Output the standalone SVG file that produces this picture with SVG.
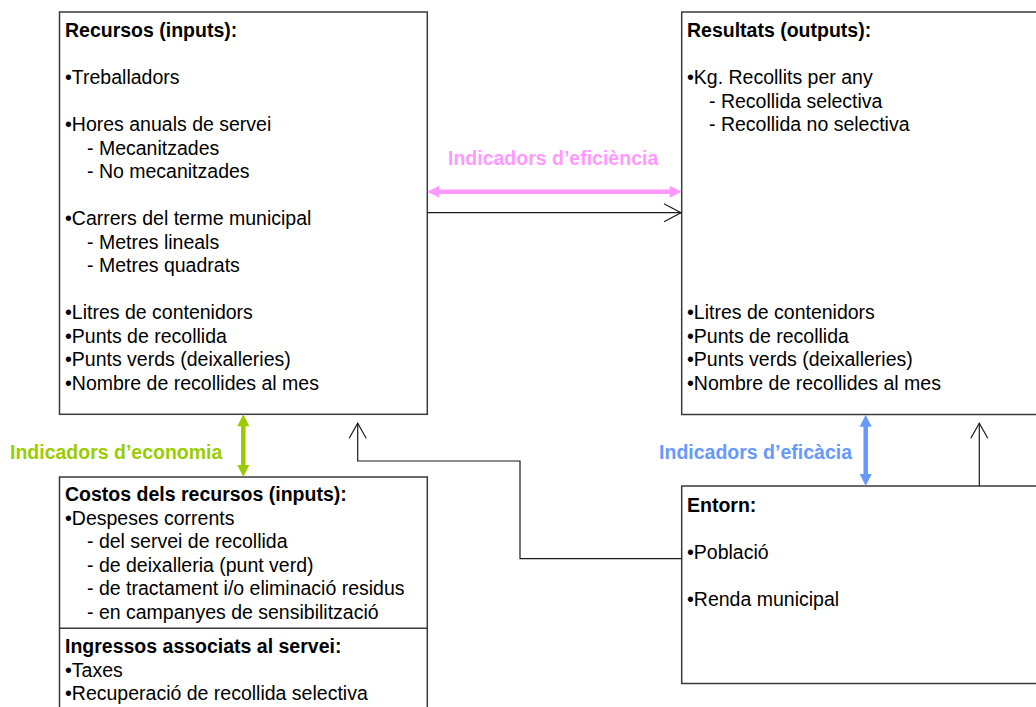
<svg xmlns="http://www.w3.org/2000/svg" width="1036" height="707" viewBox="0 0 1036 707">
  <style>
    .box { fill: #ffffff; stroke: #3a3a3a; stroke-width: 1.5; }
    .t { font-family: "Liberation Sans", Arial, sans-serif; font-size: 19.5px; fill: #000000; }
    .b { font-weight: bold; }
    .lbl { font-family: "Liberation Sans", Arial, sans-serif; font-size: 19.5px; font-weight: bold; }
    .conn { fill: none; stroke: #1a1a1a; stroke-width: 1.2; }
  </style>
  <defs>
    <marker id="pinkHead" viewBox="0 0 12 12" markerWidth="12" markerHeight="12" refX="6" refY="6" markerUnits="userSpaceOnUse" orient="auto-start-reverse" overflow="visible">
      <path d="M0,0 L12,6 L0,12 Z" fill="#FF99FF"/>
    </marker>
    <marker id="greenHead" viewBox="0 0 12 12" markerWidth="12" markerHeight="12" refX="6" refY="6" markerUnits="userSpaceOnUse" orient="auto-start-reverse" overflow="visible">
      <path d="M0,0 L12,6 L0,12 Z" fill="#99CC00"/>
    </marker>
    <marker id="blueHead" viewBox="0 0 12 12" markerWidth="12" markerHeight="12" refX="6" refY="6" markerUnits="userSpaceOnUse" orient="auto-start-reverse" overflow="visible">
      <path d="M0,0 L12,6 L0,12 Z" fill="#6699FF"/>
    </marker>
    <marker id="openH" viewBox="0 0 17 18" markerWidth="17" markerHeight="18" refX="17" refY="9" markerUnits="userSpaceOnUse" orient="auto" overflow="visible">
      <path d="M0,0 L17,9 L0,18" fill="none" stroke="#1a1a1a" stroke-width="1.2"/>
    </marker>
    <marker id="openV" viewBox="0 0 15 17" markerWidth="15" markerHeight="17" refX="15" refY="8.5" markerUnits="userSpaceOnUse" orient="auto" overflow="visible">
      <path d="M0,0 L15,8.5 L0,17" fill="none" stroke="#1a1a1a" stroke-width="1.2"/>
    </marker>
  </defs>

  <g id="recursos">
    <rect class="box" x="59.5" y="12" width="367.8" height="402.3"/>
    <text class="t b" x="65" y="37">Recursos (inputs):</text>
    <text class="t" x="65" y="84">•Treballadors</text>
    <text class="t" x="65" y="131">•Hores anuals de servei</text>
    <text class="t" x="87" y="154.5">- Mecanitzades</text>
    <text class="t" x="87" y="178">- No mecanitzades</text>
    <text class="t" x="65" y="225">•Carrers del terme municipal</text>
    <text class="t" x="87" y="248.5">- Metres lineals</text>
    <text class="t" x="87" y="272">- Metres quadrats</text>
    <text class="t" x="65" y="319">•Litres de contenidors</text>
    <text class="t" x="65" y="342.5">•Punts de recollida</text>
    <text class="t" x="65" y="366">•Punts verds (deixalleries)</text>
    <text class="t" x="65" y="389.5">•Nombre de recollides al mes</text>
  </g>

  <g id="resultats">
    <rect class="box" x="681.7" y="12" width="400" height="402.5"/>
    <text class="t b" x="687" y="37">Resultats (outputs):</text>
    <text class="t" x="687" y="84">•Kg. Recollits per any</text>
    <text class="t" x="709" y="107.5">- Recollida selectiva</text>
    <text class="t" x="709" y="131">- Recollida no selectiva</text>
    <text class="t" x="687" y="319">•Litres de contenidors</text>
    <text class="t" x="687" y="342.5">•Punts de recollida</text>
    <text class="t" x="687" y="366">•Punts verds (deixalleries)</text>
    <text class="t" x="687" y="389.5">•Nombre de recollides al mes</text>
  </g>

  <g id="costos">
    <rect class="box" x="59.5" y="477" width="367.8" height="300"/>
    <line x1="59.5" y1="628.3" x2="427.3" y2="628.3" stroke="#3a3a3a" stroke-width="1.5"/>
    <text class="t b" x="65" y="501">Costos dels recursos (inputs):</text>
    <text class="t" x="65" y="524.5">•Despeses corrents</text>
    <text class="t" x="87" y="548">- del servei de recollida</text>
    <text class="t" x="87" y="571.5">- de deixalleria (punt verd)</text>
    <text class="t" x="87" y="595">- de tractament i/o eliminació residus</text>
    <text class="t" x="87" y="618.5">- en campanyes de sensibilització</text>
    <text class="t b" x="65" y="653">Ingressos associats al servei:</text>
    <text class="t" x="65" y="676.5">•Taxes</text>
    <text class="t" x="65" y="700">•Recuperació de recollida selectiva</text>
  </g>

  <g id="entorn">
    <rect class="box" x="681.7" y="486" width="400" height="197.5"/>
    <text class="t b" x="687" y="511.5">Entorn:</text>
    <text class="t" x="687" y="558.5">•Població</text>
    <text class="t" x="687" y="605.5">•Renda municipal</text>
  </g>

  <g id="connectors">
    <line x1="433.3" y1="191.7" x2="675.7" y2="191.7" stroke="#FF99FF" stroke-width="4.5" marker-start="url(#pinkHead)" marker-end="url(#pinkHead)"/>
    <line x1="243.3" y1="420.3" x2="243.3" y2="471" stroke="#99CC00" stroke-width="4.5" marker-start="url(#greenHead)" marker-end="url(#greenHead)"/>
    <line x1="865.7" y1="420.7" x2="865.7" y2="480" stroke="#6699FF" stroke-width="4.5" marker-start="url(#blueHead)" marker-end="url(#blueHead)"/>
    <line class="conn" x1="427.3" y1="212.7" x2="681" y2="212.7" marker-end="url(#openH)"/>
    <polyline class="conn" points="681.7,558.7 520,558.7 520,461 357.7,461 357.7,423.3" marker-end="url(#openV)"/>
    <line class="conn" x1="979.3" y1="486" x2="979.3" y2="423.3" marker-end="url(#openV)"/>
  </g>

  <g id="labels">
    <text class="lbl" x="448" y="165" fill="#FF99FF">Indicadors d’eficiència</text>
    <text class="lbl" x="10" y="459" fill="#99CC00">Indicadors d’economia</text>
    <text class="lbl" x="852" y="458.5" fill="#6699FF" text-anchor="end">Indicadors d’eficàcia</text>
  </g>
</svg>
